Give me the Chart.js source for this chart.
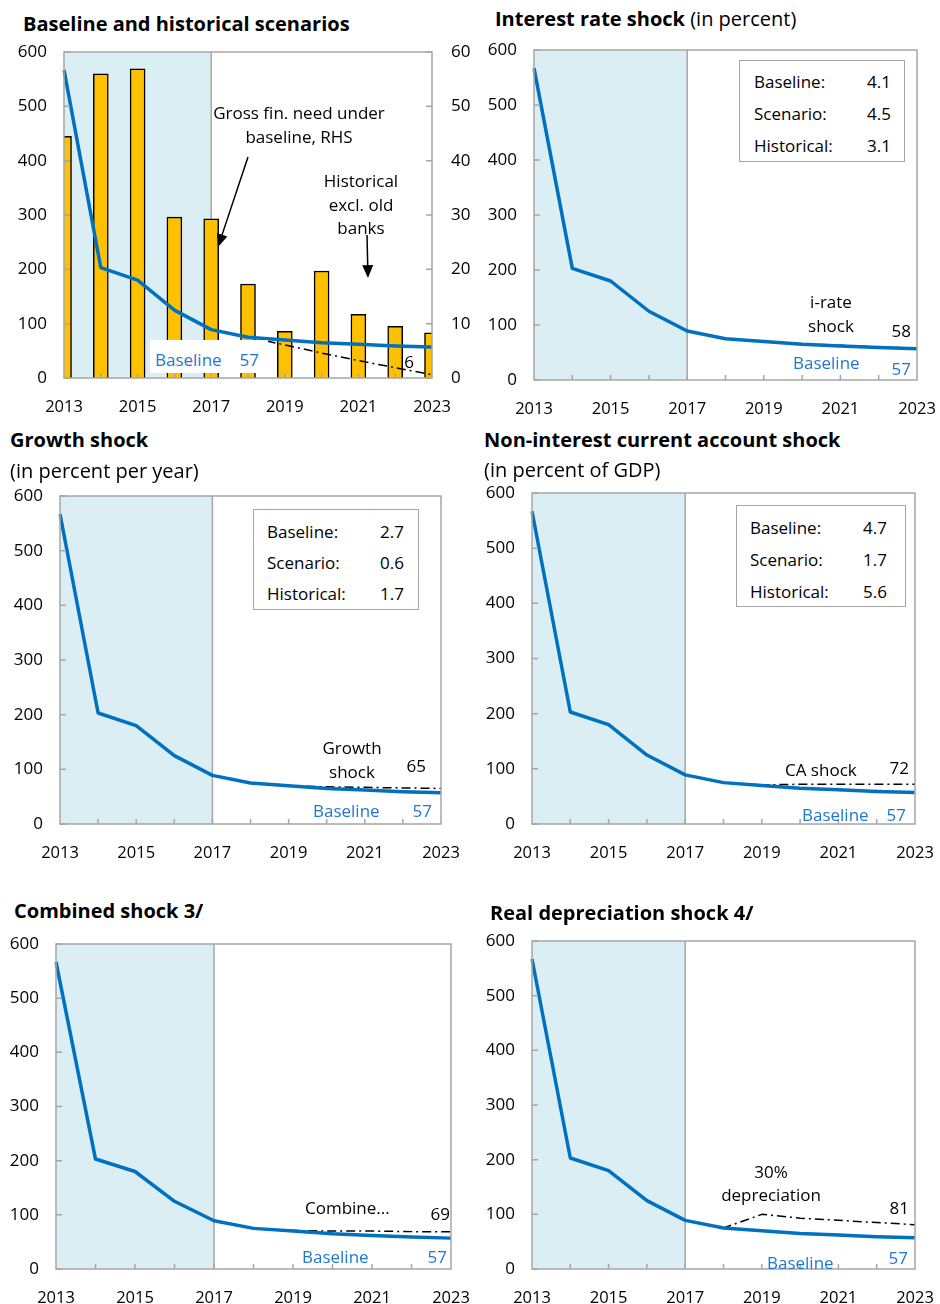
<!DOCTYPE html>
<html><head><meta charset="utf-8">
<script src="https://cdn.jsdelivr.net/npm/chart.js@4.4.1/dist/chart.umd.min.js"></script>
<style>
body{margin:0;width:940px;height:1304px;background:#fff;position:relative;font-family:"Open Sans",sans-serif;overflow:hidden}
.abs{position:absolute;white-space:nowrap;line-height:1}
canvas{position:absolute}
.box{position:absolute;border:1.5px solid #A6A6A6;background:#fff;box-sizing:border-box}
</style>
</head><body>
<script>
// ---------- data ----------
const years = ['2013','2014','2015','2016','2017','2018','2019','2020','2021','2022','2023'];
const leftTicks = [0,100,200,300,400,500,600];
const rightTicks = [0,10,20,30,40,50,60];
const baseline = [567, 203, 180, 125, 89, 75, 70, 65, 62, 59, 57];
const grossFinNeed = [44.5, 56.0, 56.9, 29.6, 29.3, 17.3, 8.6, 19.7, 11.7, 9.5, 8.3];
const historical = [null, null, null, null, null, 75, 61, 46, 32, 19, 6];
const iRateShock = [null, null, null, null, 89, 75, 70, 66, 63, 60, 58];
const growthShock = [null, null, null, null, 89, 75, 70, 68, 67, 66, 65];
const caShock = [null, null, null, null, 89, 75, 71, 72, 72, 72, 72];
const combinedShock = [null, null, null, null, 89, 75, 71, 70, 70, 69, 69];
const deprShock = [null, null, null, null, 89, 75, 100, 93, 89, 85, 81];
const irateBox = [['Baseline:', '4.1'], ['Scenario:', '4.5'], ['Historical:', '3.1']];
const growthBox = [['Baseline:', '2.7'], ['Scenario:', '0.6'], ['Historical:', '1.7']];
const caBox = [['Baseline:', '4.7'], ['Scenario:', '1.7'], ['Historical:', '5.6']];

// ---------- style ----------
const FONT = '"Open Sans", sans-serif';
const BLUE = '#0070C0';
const LBLUE = '#1F77D0';
const SHADE = '#DAEEF3';
const GRAY = '#A6A6A6';
const TXT = 17, TITLE = 20;
Chart.defaults.font.family = FONT;
Chart.defaults.font.size = 16;
Chart.defaults.color = '#000';

function txt(x, y, s, opts = {}) {
  const d = document.createElement('div');
  d.className = 'abs';
  const fs = opts.size || TXT;
  d.style.fontSize = fs + 'px';
  d.style.left = x + 'px';
  d.style.top = (y - 0.53 * fs) + 'px';
  if (opts.bold) d.style.fontWeight = 'bold';
  d.style.color = opts.color || '#000';
  if (opts.align === 'center') d.style.transform = 'translateX(-50%)';
  if (opts.align === 'right') d.style.transform = 'translateX(-100%)';
  if (opts.html) d.innerHTML = s; else d.textContent = s;
  document.body.appendChild(d);
  return d;
}
function inset(l, t, r, b, rows, labelX, valueR, ys) {
  const d = document.createElement('div');
  d.className = 'box';
  d.style.left = l + 'px'; d.style.top = t + 'px';
  d.style.width = (r - l) + 'px'; d.style.height = (b - t) + 'px';
  document.body.appendChild(d);
  rows.forEach((row, i) => {
    txt(labelX, ys[i], row[0]);
    txt(valueR, ys[i], row[1], {align: 'right'});
  });
}

const decor = {
  id: 'decor',
  beforeDatasetsDraw(chart) {
    const {ctx, chartArea: a, scales} = chart;
    const x0 = scales.x.getPixelForValue(0), x1 = scales.x.getPixelForValue(4);
    ctx.save();
    ctx.fillStyle = SHADE;
    ctx.fillRect(x0, a.top, x1 - x0, a.bottom - a.top);
    ctx.strokeStyle = GRAY; ctx.lineWidth = 1.5;
    ctx.beginPath(); ctx.moveTo(x1, a.top); ctx.lineTo(x1, a.bottom); ctx.stroke();
    ctx.restore();
  },
  afterDatasetsDraw(chart, args, opts) {
    const {ctx, chartArea: a, scales} = chart;
    ctx.save();
    ctx.strokeStyle = GRAY; ctx.lineWidth = 1.5;
    ctx.beginPath();
    for (let i = 1; i < years.length - 1; i++) {
      const x = scales.x.getPixelForValue(i);
      ctx.moveTo(x, a.bottom); ctx.lineTo(x, a.bottom - 5);
    }
    leftTicks.forEach(v => { const y = scales.y.getPixelForValue(v); ctx.moveTo(a.left, y); ctx.lineTo(a.left + 6, y); });
    if (scales.y2) rightTicks.forEach(v => { const y = scales.y2.getPixelForValue(v); ctx.moveTo(a.right, y); ctx.lineTo(a.right - 6, y); });
    ctx.stroke();
    ctx.strokeRect(a.left, a.top, a.right - a.left, a.bottom - a.top);
    (opts.arrows || []).forEach(ar => {
      const sx = a.left + ar[0], sy = a.top + ar[1], ex = a.left + ar[2], ey = a.top + ar[3];
      const ang = Math.atan2(ey - sy, ex - sx);
      const L = 13, W = 5.5;
      ctx.strokeStyle = '#000'; ctx.fillStyle = '#000'; ctx.lineWidth = 1.5;
      ctx.beginPath(); ctx.moveTo(sx, sy);
      ctx.lineTo(ex - Math.cos(ang) * L * 0.8, ey - Math.sin(ang) * L * 0.8); ctx.stroke();
      ctx.beginPath(); ctx.moveTo(ex, ey);
      ctx.lineTo(ex - Math.cos(ang) * L + Math.sin(ang) * W, ey - Math.sin(ang) * L - Math.cos(ang) * W);
      ctx.lineTo(ex - Math.cos(ang) * L - Math.sin(ang) * W, ey - Math.sin(ang) * L + Math.cos(ang) * W);
      ctx.closePath(); ctx.fill();
    });
    ctx.restore();
  }
};

function lineDs(data, color, width, dash, order) {
  return {type: 'line', data, borderColor: color, borderWidth: width, borderDash: dash || [],
    pointRadius: 0, tension: 0, fill: false, order, yAxisID: 'y', spanGaps: false,
    borderJoinStyle: 'round', borderCapStyle: 'butt'};
}

function makeChart(c, area, datasets, right, arrows) {
  const cv = document.createElement('canvas');
  cv.width = c.w; cv.height = c.h;
  cv.style.left = c.l + 'px'; cv.style.top = c.t + 'px';
  cv.style.width = c.w + 'px'; cv.style.height = c.h + 'px';
  document.body.appendChild(cv);
  const rightW = c.l + c.w - area.r;
  const scales = {
    x: {type: 'category', offset: false, grid: {display: false, drawTicks: false, offset: false}, border: {display: false},
      ticks: {autoSkip: false, maxRotation: 0, minRotation: 0, padding: 19, font: {size: 16.5},
        callback: function(v, i) { return i % 2 === 0 ? this.getLabelForValue(v) : ''; }},
      afterFit: s => { s.height = c.t + c.h - area.b; s.paddingLeft = 0; s.paddingRight = 0; }},
    y: {type: 'linear', position: 'left', min: 0, max: 600,
      grid: {display: false, drawTicks: false}, border: {display: false},
      afterBuildTicks: s => { s.ticks = leftTicks.map(v => ({value: v})); },
      ticks: {padding: 17, font: {size: 17}},
      afterFit: s => { s.width = area.l - c.l; s.paddingTop = 0; s.paddingBottom = 0; }}
  };
  if (right) {
    scales.y2 = {type: 'linear', position: 'right', min: 0, max: 60,
      grid: {display: false, drawTicks: false}, border: {display: false},
      afterBuildTicks: s => { s.ticks = rightTicks.map(v => ({value: v})); },
      ticks: {padding: 19, font: {size: 17}},
      afterFit: s => { s.width = rightW; s.paddingTop = 0; s.paddingBottom = 0; }};
  }
  const ch = new Chart(cv, {
    type: 'line',
    data: {labels: years, datasets},
    options: {
      responsive: false, animation: false, devicePixelRatio: 1,
      layout: {padding: {top: area.t - c.t, left: 0, bottom: 0, right: right ? 0 : rightW}},
      plugins: {legend: {display: false}, tooltip: {enabled: false}, decor: {arrows: arrows || []}},
      scales
    },
    plugins: [decor]
  });
  // correct any residual layout offset so the plot area lands where intended
  for (let k = 0; k < 2; k++) {
    const a = ch.chartArea, p = ch.options.layout.padding;
    const dt = (area.t - c.t) - a.top, dr = a.right - (area.r - c.l);
    if (Math.abs(dt) < 0.5 && Math.abs(dr) < 0.5) break;
    p.top += dt; p.right += dr;
    ch.update();
  }
  return ch;
}

// ---------- Panel 1 ----------
makeChart({l: 0, t: 40, w: 470, h: 380}, {l: 64, r: 432, t: 52, b: 378}, [
  lineDs(baseline, BLUE, 3.5, null, 0),
  lineDs(historical, '#000', 1.5, [9, 4, 2, 4], 1),
  {type: 'bar', data: grossFinNeed, yAxisID: 'y2', backgroundColor: '#FFC000', borderColor: '#000',
   borderWidth: 1.5, barThickness: 15, clip: 0, order: 2}
], true, [[184, 105, 154, 195], [303, 183, 304, 226]]);
txt(23, 25, 'Baseline and historical scenarios', {bold: true, size: TITLE});
txt(299, 113, 'Gross fin. need under', {align: 'center'});
txt(299, 137, 'baseline, RHS', {align: 'center'});
txt(361, 181, 'Historical', {align: 'center'});
txt(361, 205, 'excl. old', {align: 'center'});
txt(361, 228, 'banks', {align: 'center'});
(function(){ const d = document.createElement('div'); d.style.cssText = 'position:absolute;left:150px;top:340px;width:118px;height:33px;background:#fff'; document.body.appendChild(d); })();
txt(155, 360, 'Baseline', {color: LBLUE});
txt(259, 360, '57', {color: LBLUE, align: 'right'});
txt(414, 362, '6', {align: 'right'});

// ---------- Panel 2 ----------
makeChart({l: 470, t: 40, w: 470, h: 380}, {l: 534, r: 917, t: 50, b: 380}, [
  lineDs(baseline, BLUE, 3.5, null, 0),
  lineDs(iRateShock, '#000', 1.5, [9, 4, 2, 4], 1)
], false);
txt(495, 20, '<b>Interest rate shock</b> (in percent)', {size: TITLE, html: true});
inset(739, 60, 905, 162, irateBox, 754, 891, [82, 114, 146]);
txt(831, 302, 'i-rate', {align: 'center'});
txt(831, 326, 'shock', {align: 'center'});
txt(911, 331, '58', {align: 'right'});
txt(793, 363, 'Baseline', {color: LBLUE});
txt(911, 369, '57', {color: LBLUE, align: 'right'});

// ---------- Panel 3 ----------
makeChart({l: 0, t: 480, w: 470, h: 380}, {l: 60, r: 441, t: 496, b: 824}, [
  lineDs(baseline, BLUE, 3.5, null, 0),
  lineDs(growthShock, '#000', 1.5, [9, 4, 2, 4], 1)
], false);
txt(10, 441, 'Growth shock', {bold: true, size: TITLE});
txt(10, 472, '(in percent per year)', {size: TITLE});
inset(253, 509, 419, 610, growthBox, 267, 404, [532, 563, 594]);
txt(352, 748, 'Growth', {align: 'center'});
txt(352, 772, 'shock', {align: 'center'});
txt(426, 766, '65', {align: 'right'});
txt(313, 811, 'Baseline', {color: LBLUE});
txt(432, 811, '57', {color: LBLUE, align: 'right'});

// ---------- Panel 4 ----------
makeChart({l: 470, t: 480, w: 470, h: 380}, {l: 532, r: 915, t: 493, b: 824}, [
  lineDs(baseline, BLUE, 3.5, null, 0),
  lineDs(caShock, '#000', 1.5, [9, 4, 2, 4], 1)
], false);
txt(484, 441, 'Non-interest current account shock', {bold: true, size: TITLE});
txt(484, 471, '(in percent of GDP)', {size: TITLE});
inset(736, 505, 906, 607, caBox, 750, 887, [528, 560, 592]);
txt(785, 770, 'CA shock');
txt(909, 768, '72', {align: 'right'});
txt(802, 815, 'Baseline', {color: LBLUE});
txt(906, 815, '57', {color: LBLUE, align: 'right'});

// ---------- Panel 5 ----------
makeChart({l: 0, t: 925, w: 470, h: 379}, {l: 56, r: 451, t: 944, b: 1269}, [
  lineDs(baseline, BLUE, 3.5, null, 0),
  lineDs(combinedShock, '#000', 1.5, [9, 4, 2, 4], 1)
], false);
txt(14, 912, 'Combined shock 3/', {bold: true, size: TITLE});
txt(305, 1208, 'Combine...');
txt(450, 1214, '69', {align: 'right'});
txt(302, 1257, 'Baseline', {color: LBLUE});
txt(447, 1257, '57', {color: LBLUE, align: 'right'});

// ---------- Panel 6 ----------
makeChart({l: 470, t: 925, w: 470, h: 379}, {l: 532, r: 915, t: 941, b: 1269}, [
  lineDs(baseline, BLUE, 3.5, null, 0),
  lineDs(deprShock, '#000', 1.5, [9, 4, 2, 4], 1)
], false);
txt(490, 914, 'Real depreciation shock 4/', {bold: true, size: TITLE});
txt(771, 1172, '30%', {align: 'center'});
txt(771, 1195, 'depreciation', {align: 'center'});
txt(909, 1208, '81', {align: 'right'});
txt(767, 1263, 'Baseline', {color: LBLUE});
txt(908, 1258, '57', {color: LBLUE, align: 'right'});
</script>
</body></html>
